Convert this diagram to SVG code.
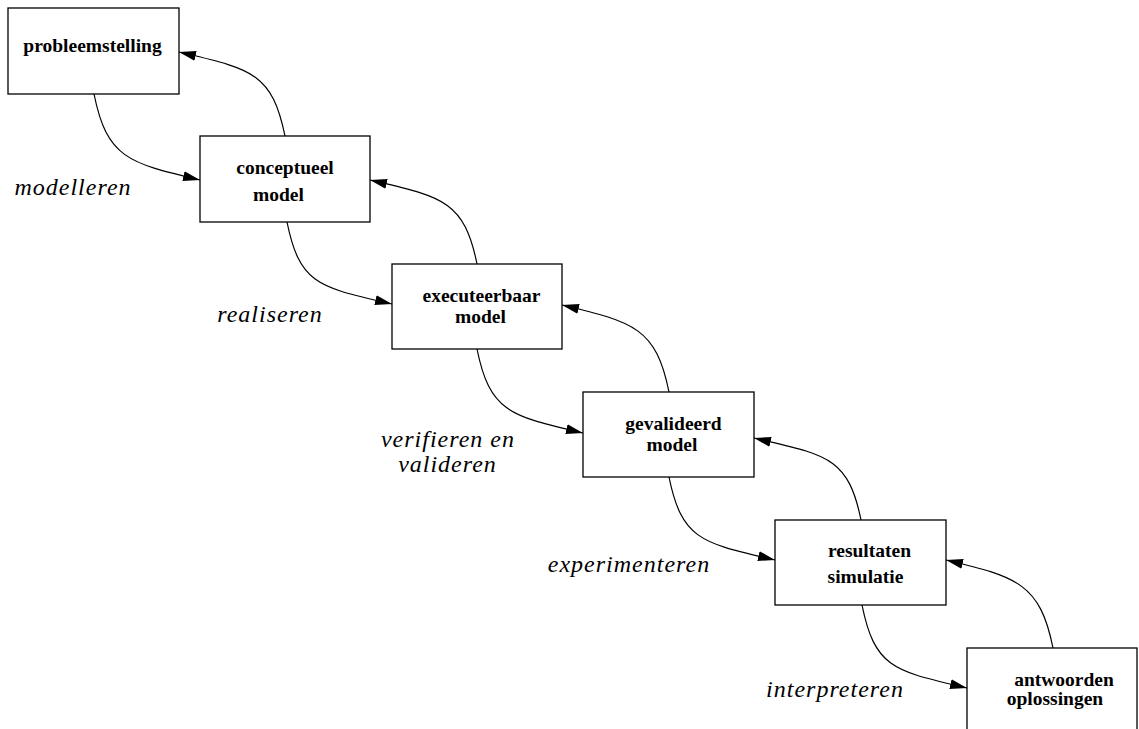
<svg xmlns="http://www.w3.org/2000/svg" width="1139" height="729" viewBox="0 0 1139 729">
<style>
.box{fill:#fff;stroke:#000;stroke-width:1.3}
.nt{font-family:"Liberation Serif","Times New Roman",serif;font-weight:bold;font-size:19.5px;fill:#000;text-anchor:middle}
.lb{font-family:"Liberation Serif","Times New Roman",serif;font-style:italic;font-size:24px;letter-spacing:1px;fill:#000;text-anchor:middle}
.con{fill:none;stroke:#000;stroke-width:1.2}
</style>
<defs>
<marker id="ah" markerUnits="userSpaceOnUse" markerWidth="18" markerHeight="11" refX="17" refY="5" orient="auto">
<path d="M0,0 L17,5 L0,10 z" fill="#000"/>
</marker>
</defs>
<rect width="1139" height="729" fill="#fff"/>
<g id="connectors">
<path class="con" marker-end="url(#ah)" d="M94,94 C107,158 128,163 200,180"/>
<path class="con" marker-end="url(#ah)" d="M287,222 C300,286 320,287 392,304"/>
<path class="con" marker-end="url(#ah)" d="M477,349 C490,413 511,416 583,433"/>
<path class="con" marker-end="url(#ah)" d="M669,477 C682,541 703,543 775,560"/>
<path class="con" marker-end="url(#ah)" d="M862,605 C875,669 895,671 967,688"/>
<path class="con" marker-end="url(#ah)" d="M285,136 C272,72 251,69 179,52"/>
<path class="con" marker-end="url(#ah)" d="M477,264 C464,200 442,197 370,180"/>
<path class="con" marker-end="url(#ah)" d="M669,392 C656,328 634,322 562,305"/>
<path class="con" marker-end="url(#ah)" d="M861,520 C848,456 826,455 754,438"/>
<path class="con" marker-end="url(#ah)" d="M1053,648 C1040,584 1018,577 946,560"/>
</g>
<g id="probleemstelling">
<rect class="box" x="8" y="8" width="171" height="86"/>
<text class="nt" x="92.5" y="52">probleemstelling</text>
</g>
<g id="conceptueel-model">
<rect class="box" x="200" y="136" width="170" height="86"/>
<text class="nt" x="285" y="174">conceptueel</text>
<text class="nt" x="278.5" y="201">model</text>
</g>
<g id="executeerbaar-model">
<rect class="box" x="392" y="264" width="170" height="85"/>
<text class="nt" x="481.5" y="302">executeerbaar</text>
<text class="nt" x="480.5" y="322.5">model</text>
</g>
<g id="gevalideerd-model">
<rect class="box" x="583" y="392" width="171" height="85"/>
<text class="nt" x="673.5" y="430">gevalideerd</text>
<text class="nt" x="672" y="450.5">model</text>
</g>
<g id="resultaten-simulatie">
<rect class="box" x="775" y="520" width="171" height="85"/>
<text class="nt" x="869.5" y="557">resultaten</text>
<text class="nt" x="865.5" y="583">simulatie</text>
</g>
<g id="antwoorden-oplossingen">
<rect class="box" x="967" y="648" width="170" height="95"/>
<text class="nt" x="1064" y="686">antwoorden</text>
<text class="nt" x="1055" y="705">oplossingen</text>
</g>
<g id="labels">
<text class="lb" x="73" y="195">modelleren</text>
<text class="lb" x="270" y="322">realiseren</text>
<text class="lb" x="448" y="447">verifieren en</text>
<text class="lb" x="447.5" y="472">valideren</text>
<text class="lb" x="629" y="572">experimenteren</text>
<text class="lb" x="835" y="697">interpreteren</text>
</g>
</svg>
